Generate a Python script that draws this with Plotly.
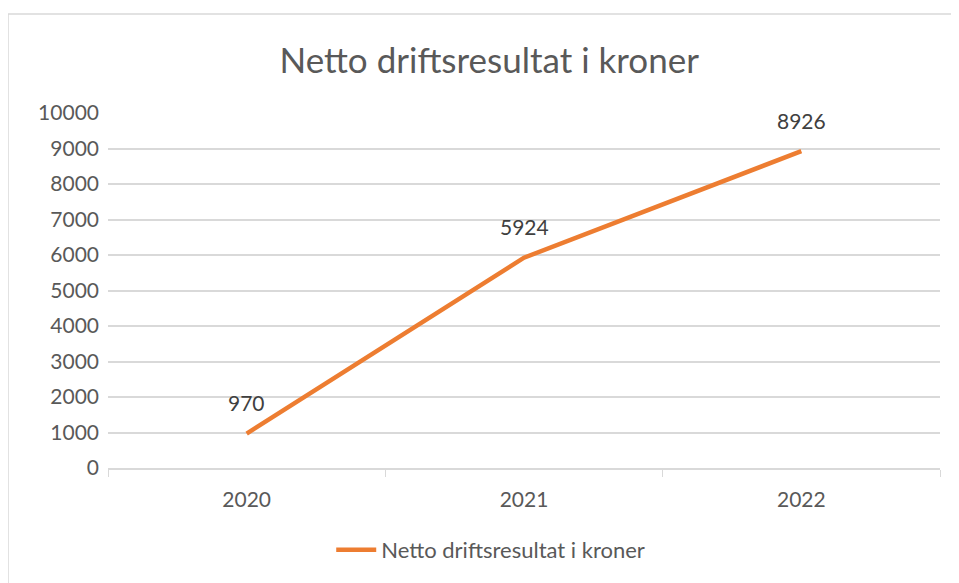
import plotly.graph_objects as go

years = ["2020", "2021", "2022"]
values = [970, 5924, 8926]
series_name = "Netto driftsresultat i kroner"
title_text = "Netto driftsresultat i kroner"
y_ticks = list(range(0, 10001, 1000))
y_tick_labels = [str(v) for v in y_ticks]

FONT = "Lato"
GREY = "#595959"
ORANGE = "#ED7D31"

fig = go.Figure()
fig.add_trace(go.Scatter(
    x=years, y=values, name=series_name,
    mode="lines",
    line=dict(color=ORANGE, width=4.5),
    cliponaxis=False,
))

# data labels: category index positions on the category axis
annotations = [
    dict(x=i, y=v, xref="x", yref="y", text=str(v), showarrow=False,
         yshift=31, font=dict(family=FONT, size=21, color="#404040"))
    for i, v in enumerate(values)
]

# page body has an 8px default margin; layout compensates for it
fig.update_layout(
    width=951, height=575,
    margin=dict(l=100, r=19, t=105, b=115),
    paper_bgcolor="white", plot_bgcolor="white",
    title=dict(text=title_text, x=0.506, xanchor="center", y=0.909, yanchor="middle",
               font=dict(family=FONT, size=35, color=GREY)),
    font=dict(family=FONT, color=GREY),
    showlegend=True,
    legend=dict(orientation="h", x=0.46, xanchor="center", y=-0.231, yanchor="middle",
                font=dict(family=FONT, size=22, color=GREY), itemwidth=40),
    annotations=annotations,
    xaxis=dict(
        type="category", range=[-0.5, 2.5],
        showgrid=False, showline=True, linecolor="#d9d9d9", linewidth=1.5,
        ticks="outside", tickson="boundaries", ticklen=7, tickcolor="#d9d9d9",
        tickfont=dict(family=FONT, size=21, color=GREY),
        ticklabelstandoff=12,
    ),
    yaxis=dict(
        range=[0, 10000], tickvals=y_ticks, ticktext=y_tick_labels,
        showgrid=True, gridcolor="#d9d9d9", gridwidth=1.5,
        zeroline=False, showline=False,
        tickfont=dict(family=FONT, size=21, color=GREY),
        ticklabelstandoff=8,
    ),
    shapes=[dict(type="rect", xref="paper", yref="paper",
                 x0=(0 - 100) / 832, x1=(960 - 100) / 832,
                 y0=(460 - 590) / 355, y1=(460 - 6) / 355,
                 line=dict(color="#d9d9d9", width=1.5), fillcolor="rgba(0,0,0,0)",
                 layer="below")],
)

fig.write_html("out.html")
